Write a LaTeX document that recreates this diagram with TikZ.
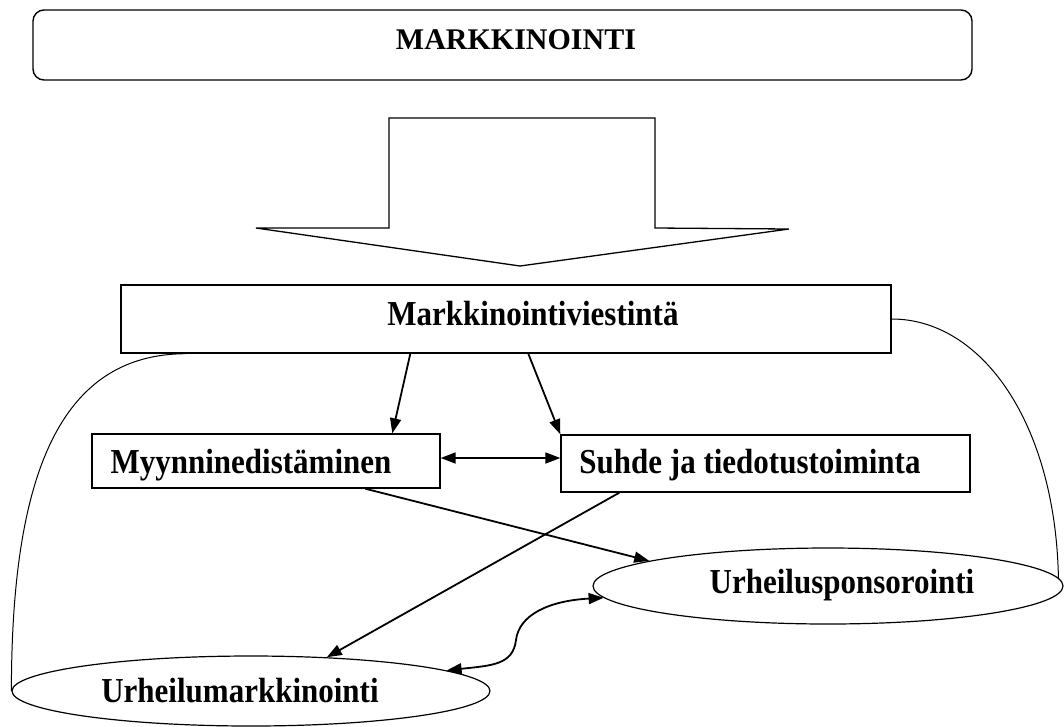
\documentclass[tikz,border=0pt]{standalone}
\usepackage{fontspec}
\setmainfont{Liberation Serif}
\usetikzlibrary{arrows.meta,shapes.geometric}
\newcommand{\tallt}[1]{\scalebox{1}[1.13]{#1}}
\begin{document}
\begin{tikzpicture}[x=1pt,y=-1pt,
  box/.style={draw,line width=1.4pt,inner sep=0pt},
  oval/.style={draw,ellipse,line width=1.2pt,inner sep=0pt},
  lbl/.style={anchor=base,inner sep=0pt,font=\fontsize{31}{37}\selectfont\bfseries},
  conn/.style={line width=1.8pt,-{Triangle[length=15pt,width=11pt]}},
  dconn/.style={line width=1.8pt,{Triangle[length=15pt,width=11pt]}-{Triangle[length=15pt,width=11pt]}},
  curve/.style={line width=1pt}]
\useasboundingbox (0,0) rectangle (1064,726);
% boxes
\node[box,rounded corners=11pt,minimum width=939pt,minimum height=70pt] (title) at (502.5,45) {};
\node[box,minimum width=770pt,minimum height=68pt] (mv) at (506,319) {};
\node[box,minimum width=348pt,minimum height=54pt] (my) at (266,461) {};
\node[box,minimum width=409pt,minimum height=57pt] (su) at (765.5,463.5) {};
\node[oval,minimum width=470pt,minimum height=76pt] (us) at (828,586) {};
\node[oval,minimum width=478pt,minimum height=70pt] (um) at (251,691) {};
% texts
\node[lbl,font=\fontsize{30}{36}\selectfont\bfseries] (t0) at (516,49) {MARKKINOINTI};
\node[lbl] (t1) at (533,325) {\tallt{Markkinointiviestintä}};
\node[lbl] (t2) at (251,473) {\tallt{Myynninedistäminen}};
\node[lbl] (t3) at (750,473) {\tallt{Suhde ja tiedotustoiminta}};
\node[lbl] (t4) at (842,593) {\tallt{Urheilusponsorointi}};
\node[lbl] (t5) at (240,702) {\tallt{Urheilumarkkinointi}};
% big block arrow
\draw[line width=1.3pt,line join=miter] (389,118) -- (655,118) -- (655,228) -- (789,229) -- (520,266) -- (256,228) -- (389,228) -- cycle;
% connectors
\draw[conn] ([xshift=290pt]mv.south west) -- ([xshift=301pt]my.north west);
\draw[conn] ([xshift=408pt]mv.south west) -- (su.north west);
\draw[dconn] ([yshift=3pt]my.east) -- ([yshift=3pt]my.east -| su.west);
\draw[conn] ([xshift=274pt]my.south west) -- (us.172);
\draw[conn] ([xshift=59pt]su.south west) -- (um.24);
\coordinate (bend) at (516,640);
\draw[dconn] (us.183) .. controls +(-55,3) and +(3,-25) .. (bend) .. controls +(-3,25) and +(45,-5) .. (um.6);
\draw[curve] ([xshift=66pt]mv.south west) .. controls +(-127,0) and +(0,-215) .. (um.west);
\draw[curve] (mv.east) .. controls +(90,0) and +(-3,-155) .. (us.2);
\end{tikzpicture}
\end{document}
